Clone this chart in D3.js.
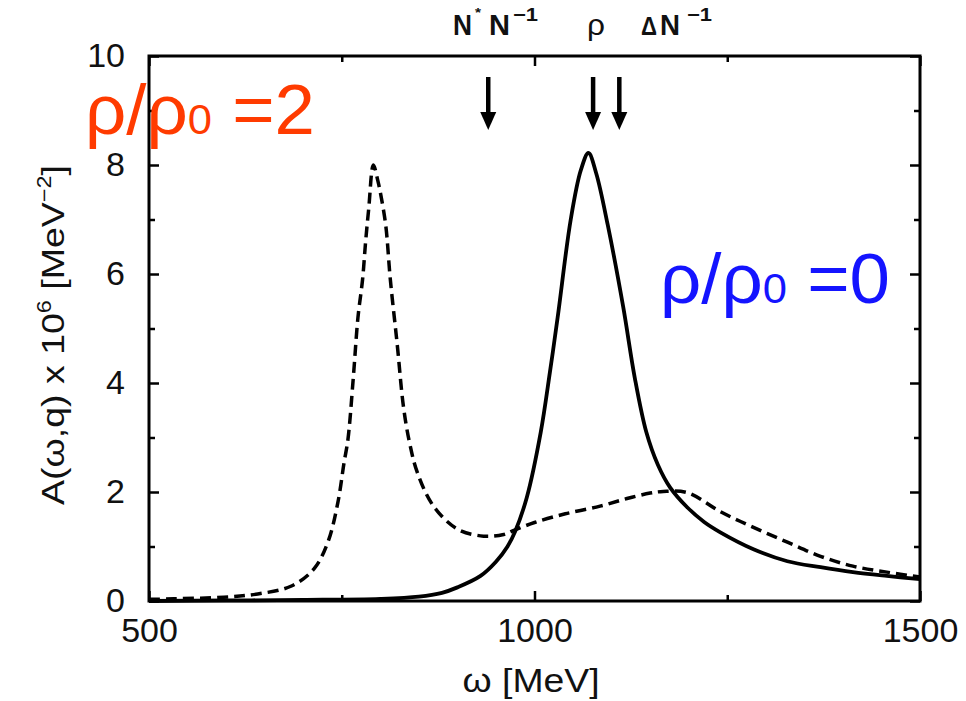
<!DOCTYPE html>
<html>
<head>
<meta charset="utf-8">
<script src="https://cdn.jsdelivr.net/npm/d3@7/dist/d3.min.js"></script>
<style>
  html, body { margin: 0; padding: 0; background: #fff; }
  svg { display: block; }
  text { font-family: "Liberation Sans", Arial, Helvetica, sans-serif; }
</style>
</head>
<body>
<svg id="chart" width="966" height="701"></svg>
<script>
// ---------- data ----------
// rho/rho0 = 0 (solid)
const omegaSolid = [500, 600, 700, 800, 850, 880, 900, 930, 950, 965, 975, 990, 1008, 1020, 1030, 1047, 1060, 1070, 1080, 1095, 1115, 1130, 1145, 1160, 1176, 1198, 1220, 1241, 1284, 1328, 1371, 1413, 1457, 1500];
const specSolid  = [0.0, 0.01, 0.02, 0.04, 0.08, 0.15, 0.25, 0.46, 0.72, 1.0, 1.28, 1.9, 3.09, 4.2, 5.2, 7.0, 7.9, 8.22, 7.85, 6.9, 5.4, 4.1, 3.1, 2.5, 2.08, 1.72, 1.45, 1.26, 0.95, 0.73, 0.62, 0.53, 0.46, 0.40];
// rho/rho0 = 2 (dashed)
const omegaDashed = [500, 532, 597, 641, 684, 714, 732, 745, 753, 758, 765, 771, 777, 781, 785, 791, 797, 800, 807, 813, 822, 830, 838, 848, 869, 900, 934, 960, 974, 1000, 1040, 1085, 1120, 1150, 1167, 1198, 1241, 1284, 1328, 1371, 1413, 1457, 1500];
const specDashed  = [0.03, 0.04, 0.07, 0.13, 0.27, 0.59, 1.08, 1.81, 2.54, 2.96, 4.1, 5.2, 5.9, 6.6, 7.2, 8.0, 7.7, 7.5, 6.9, 5.9, 4.7, 3.57, 2.9, 2.36, 1.74, 1.32, 1.19, 1.22, 1.30, 1.44, 1.6, 1.74, 1.88, 1.98, 2.01, 1.99, 1.64, 1.35, 1.08, 0.82, 0.64, 0.53, 0.44];

const xTicks = [500, 1000, 1500];
const xMinorTicks = [750, 1250];
const yTicks = [0, 2, 4, 6, 8, 10];
const yMinorTicks = [1, 3, 5, 7, 9];

// arrow annotations (omega positions)
const arrowOmega = [940, 1076, 1110];

// ---------- layout ----------
const svg = d3.select("#chart");
const x = d3.scaleLinear().domain([500, 1500]).range([149, 920]);
const y = d3.scaleLinear().domain([0, 10]).range([601, 56]);

const fontTick = 34;

// frame
svg.append("rect")
  .attr("x", x(500)).attr("y", y(10))
  .attr("width", x(1500) - x(500)).attr("height", y(0) - y(10))
  .attr("fill", "none").attr("stroke", "#000").attr("stroke-width", 3);

function styleAxis(g) {
  g.select(".domain").remove();
  g.selectAll(".tick line").attr("stroke", "#000").attr("stroke-width", 2.5);
  g.selectAll(".tick text").attr("fill", "#111").attr("font-size", fontTick)
    .attr("font-family", "'Liberation Sans', Arial, sans-serif");
}

// bottom
svg.append("g").attr("transform", `translate(0,${y(0)})`)
  .call(d3.axisBottom(x).tickValues(xTicks).tickSize(-10).tickPadding(17).tickFormat(d3.format("d")))
  .call(styleAxis);
svg.append("g").attr("transform", `translate(0,${y(0)})`)
  .call(d3.axisBottom(x).tickValues(xMinorTicks).tickSize(-6).tickFormat(""))
  .call(styleAxis);
// top
svg.append("g").attr("transform", `translate(0,${y(10)})`)
  .call(d3.axisTop(x).tickValues(xTicks).tickSize(-10).tickFormat(""))
  .call(styleAxis);
svg.append("g").attr("transform", `translate(0,${y(10)})`)
  .call(d3.axisTop(x).tickValues(xMinorTicks).tickSize(-6).tickFormat(""))
  .call(styleAxis);
// left
svg.append("g").attr("transform", `translate(${x(500)},0)`)
  .call(d3.axisLeft(y).tickValues(yTicks).tickSize(-10).tickPadding(24).tickFormat(d3.format("d")))
  .call(styleAxis);
svg.append("g").attr("transform", `translate(${x(500)},0)`)
  .call(d3.axisLeft(y).tickValues(yMinorTicks).tickSize(-6).tickFormat(""))
  .call(styleAxis);
// right
svg.append("g").attr("transform", `translate(${x(1500)},0)`)
  .call(d3.axisRight(y).tickValues(yTicks).tickSize(-10).tickFormat(""))
  .call(styleAxis);
svg.append("g").attr("transform", `translate(${x(1500)},0)`)
  .call(d3.axisRight(y).tickValues(yMinorTicks).tickSize(-6).tickFormat(""))
  .call(styleAxis);

// curves
const line = d3.line()
  .x(d => x(d[0])).y(d => y(d[1]))
  .curve(d3.curveCatmullRom.alpha(0.5));

svg.append("path")
  .datum(omegaDashed.map((o, i) => [o, specDashed[i]]))
  .attr("d", line)
  .attr("fill", "none").attr("stroke", "#000").attr("stroke-width", 3.5)
  .attr("stroke-dasharray", "11,6");

svg.append("path")
  .datum(omegaSolid.map((o, i) => [o, specSolid[i]]))
  .attr("d", line)
  .attr("fill", "none").attr("stroke", "#000").attr("stroke-width", 3.8);

// axis titles
svg.append("text")
  .attr("x", 531).attr("y", 692)
  .attr("text-anchor", "middle").attr("font-size", 34).attr("fill", "#111")
  .attr("textLength", 137).attr("lengthAdjust", "spacingAndGlyphs")
  .text("ω [MeV]");

const yt = svg.append("text")
  .attr("transform", "translate(64,335) rotate(-90)")
  .attr("text-anchor", "middle").attr("font-size", 32).attr("fill", "#111")
  .attr("textLength", 340).attr("lengthAdjust", "spacingAndGlyphs");
yt.append("tspan").text("A(ω,q) x 10");
yt.append("tspan").attr("dy", -13).attr("font-size", 20).text("6");
yt.append("tspan").attr("dy", 13).text(" [MeV");
yt.append("tspan").attr("dy", -13).attr("font-size", 20).text("−2");
yt.append("tspan").attr("dy", 13).text("]");

// arrows
const arrowTop = y(10) + 21, arrowBot = y(10) + 74;
arrowOmega.forEach(o => {
  const ax = x(o);
  svg.append("line")
    .attr("x1", ax).attr("x2", ax).attr("y1", arrowTop).attr("y2", arrowBot - 14)
    .attr("stroke", "#000").attr("stroke-width", 4.5);
  svg.append("path")
    .attr("d", `M${ax - 8},${arrowBot - 18} L${ax + 8},${arrowBot - 18} L${ax},${arrowBot} Z`)
    .attr("fill", "#000");
});

// top labels
function topText(px, py, size, str, len, weight) {
  return svg.append("text").attr("x", px).attr("y", py).attr("font-size", size)
    .attr("fill", "#111").attr("font-weight", weight || "bold")
    .attr("textLength", len).attr("lengthAdjust", "spacingAndGlyphs").text(str);
}
topText(453, 35, 30, "N", 19);
topText(475, 17, 13, "*", 6);
topText(489, 35, 30, "N", 21);
topText(513, 21, 18, "−1", 25);
topText(587, 35, 30, "ρ", 18, "normal");
topText(641, 35, 26, "Δ", 16);
topText(660, 35, 30, "N", 20);
topText(687, 21, 18, "−1", 25);

// density labels
function densityLabel(px, py, val, color) {
  const t = svg.append("text").attr("x", px).attr("y", py).attr("font-size", 70).attr("fill", color)
    .attr("textLength", 230).attr("lengthAdjust", "spacingAndGlyphs");
  t.append("tspan").text("ρ/ρ");
  t.append("tspan").attr("font-size", 42).text("0");
  t.append("tspan").text(" =" + val);
}
densityLabel(85, 134, "2", "#ff3b00");
densityLabel(660, 303, "0", "#1414ff");
</script>
</body>
</html>
